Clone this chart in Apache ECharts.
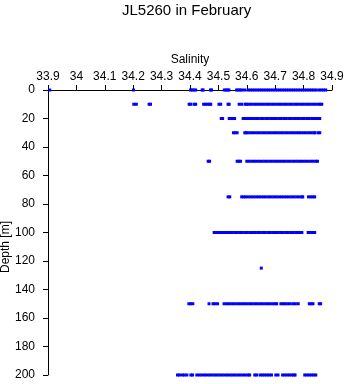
<!DOCTYPE html>
<html>
<head>
<meta charset="utf-8">
<script src="https://cdn.jsdelivr.net/npm/echarts@6/dist/echarts.min.js"></script>
<style>html,body{margin:0;padding:0;background:#fff}#c{width:346px;height:384px}</style>
</head>
<body>
<div id="c"></div>
<script>
var titleText = 'JL5260 in February';
var xName = 'Salinity';
var yName = 'Depth [m]';
var xTicks = [33.9, 34, 34.1, 34.2, 34.3, 34.4, 34.5, 34.6, 34.7, 34.8, 34.9];
var depths = [0, 10, 20, 30, 50, 75, 100, 125, 150, 200];

var sal0 = [33.906, 34.201, 34.402, 34.408, 34.414, 34.420, 34.443, 34.446, 34.472, 34.476, 34.521, 34.527, 34.533, 34.537, 34.564, 34.570, 34.576, 34.582, 34.592,
  34.604, 34.612, 34.620, 34.628, 34.636, 34.644, 34.652, 34.660, 34.668, 34.676, 34.684, 34.692, 34.700, 34.708, 34.716, 34.724, 34.732, 34.740, 34.748, 34.756, 34.764, 34.772, 34.780, 34.788, 34.796, 34.804, 34.812, 34.820, 34.828, 34.836, 34.844,
  34.854, 34.862, 34.870, 34.878];
var sal10 = [34.202, 34.211, 34.256, 34.261, 34.397, 34.402, 34.414, 34.420, 34.448, 34.455, 34.462, 34.469, 34.473, 34.502, 34.508, 34.534, 34.538, 34.573, 34.582, 34.594, 34.599,
  34.607, 34.616, 34.625, 34.634, 34.643, 34.652, 34.661, 34.670, 34.679, 34.688, 34.697, 34.706, 34.715, 34.724, 34.733, 34.742, 34.751, 34.760, 34.769, 34.778, 34.787, 34.796, 34.805, 34.814, 34.823, 34.832, 34.841, 34.850, 34.858, 34.864];
var sal20 = [34.510, 34.515, 34.538, 34.544, 34.550, 34.557, 34.587, 34.593, 34.598,
  34.604, 34.613, 34.622, 34.631, 34.640, 34.649, 34.658, 34.667, 34.676, 34.685, 34.694, 34.703, 34.712, 34.721, 34.730, 34.739, 34.748, 34.757, 34.766, 34.775, 34.784, 34.793, 34.802, 34.811, 34.820, 34.829, 34.838, 34.844, 34.851, 34.857];
var sal30 = [34.553, 34.559, 34.566, 34.593, 34.597,
  34.602, 34.611, 34.620, 34.629, 34.638, 34.647, 34.656, 34.665, 34.674, 34.683, 34.692, 34.701, 34.710, 34.719, 34.728, 34.737, 34.746, 34.755, 34.764, 34.773, 34.782, 34.791, 34.800, 34.809, 34.818, 34.827, 34.836, 34.840, 34.851, 34.857];
var sal50 = [34.464, 34.469, 34.566, 34.572, 34.578,
  34.600, 34.609, 34.618, 34.627, 34.636, 34.645, 34.654, 34.663, 34.672, 34.681, 34.690, 34.699, 34.708, 34.717, 34.726, 34.735, 34.744, 34.753, 34.762, 34.771, 34.780, 34.789, 34.798, 34.807, 34.816, 34.825, 34.834, 34.843, 34.849];
var sal75 = [34.534, 34.540, 34.582, 34.589,
  34.596, 34.605, 34.614, 34.623, 34.632, 34.641, 34.650, 34.659, 34.668, 34.677, 34.686, 34.695, 34.704, 34.713, 34.722, 34.731, 34.740, 34.749, 34.758, 34.767, 34.776, 34.785, 34.794, 34.797,
  34.817, 34.825, 34.833, 34.839];
var sal100 = [34.485, 34.491, 34.498, 34.505, 34.512, 34.518, 34.525, 34.532, 34.540,
  34.548, 34.557, 34.566, 34.575, 34.584, 34.593, 34.602, 34.611, 34.620, 34.629, 34.638, 34.647, 34.656, 34.665, 34.674, 34.683, 34.692, 34.701, 34.710, 34.719, 34.728, 34.737, 34.746, 34.755, 34.764, 34.773, 34.782, 34.790, 34.794,
  34.816, 34.824, 34.832, 34.839];
var sal125 = [34.651];
var sal150 = [34.396, 34.402, 34.410, 34.467, 34.481, 34.488, 34.497,
  34.520, 34.529, 34.538, 34.547, 34.556, 34.565, 34.574, 34.583, 34.592, 34.601, 34.610, 34.619, 34.628, 34.637, 34.646, 34.655, 34.664, 34.673, 34.682, 34.691, 34.700, 34.705,
  34.720, 34.728, 34.735, 34.744, 34.752, 34.762, 34.771, 34.781,
  34.820, 34.826, 34.833, 34.855, 34.860];
var sal200 = [34.356, 34.363, 34.373, 34.380, 34.389, 34.403, 34.409,
  34.424, 34.433, 34.442, 34.451, 34.460, 34.469, 34.478, 34.487, 34.496, 34.505, 34.514, 34.523, 34.532, 34.541, 34.550, 34.559, 34.568, 34.577, 34.586, 34.595, 34.604, 34.610,
  34.628, 34.635, 34.647, 34.655, 34.663, 34.671, 34.679, 34.687, 34.702, 34.710,
  34.726, 34.734, 34.742, 34.750, 34.758, 34.766, 34.770,
  34.804, 34.812, 34.820, 34.828, 34.836, 34.843];

var salByDepth = [sal0, sal10, sal20, sal30, sal50, sal75, sal100, sal125, sal150, sal200];
var points = [];
depths.forEach(function (d, i) {
  salByDepth[i].forEach(function (s) { points.push([s, d]); });
});

var FONT = 'Liberation Sans, Arial, sans-serif';
var chart = echarts.init(document.getElementById('c'), null, { renderer: 'canvas' });
chart.setOption({
  animation: false,
  backgroundColor: '#ffffff',
  title: {
    text: titleText,
    left: 122, top: 3, padding: 0,
    textStyle: { fontFamily: FONT, fontSize: 15, fontWeight: 'normal', color: '#000' }
  },
  graphic: [{
    type: 'text',
    x: 6, y: 247,
    rotation: Math.PI / 2,
    style: {
      text: yName, fontFamily: FONT, fontSize: 12, fill: '#000',
      align: 'center', verticalAlign: 'middle'
    }
  }],
  grid: { left: 48, right: 14, top: 90, bottom: 9, containLabel: false, outerBoundsMode: 'none' },
  xAxis: {
    type: 'value', position: 'top',
    min: 33.9, max: 34.9, interval: 0.1,
    name: xName, nameLocation: 'middle', nameGap: 22,
    nameTextStyle: { fontFamily: FONT, fontSize: 12, color: '#000' },
    axisLine: { show: true, lineStyle: { color: '#000', width: 1 } },
    axisTick: { show: true, length: 5, lineStyle: { color: '#000' } },
    axisLabel: {
      fontFamily: FONT, fontSize: 12, color: '#000', margin: 7,
      formatter: function (v) { return String(+(+v).toFixed(1)); }
    },
    splitLine: { show: false }
  },
  yAxis: {
    type: 'value', inverse: true,
    min: 0, max: 200, interval: 20,
    axisLine: { show: true, lineStyle: { color: '#000', width: 1 } },
    axisTick: { show: true, length: 5, lineStyle: { color: '#000' } },
    axisLabel: { fontFamily: FONT, fontSize: 12, color: '#000', margin: 13 },
    splitLine: { show: false }
  },
  series: [{
    type: 'scatter',
    data: points,
    symbol: 'rect',
    symbolSize: 3,
    itemStyle: { color: '#0000ff', opacity: 1 },
    emphasis: { disabled: true }
  }]
});
</script>
</body>
</html>
